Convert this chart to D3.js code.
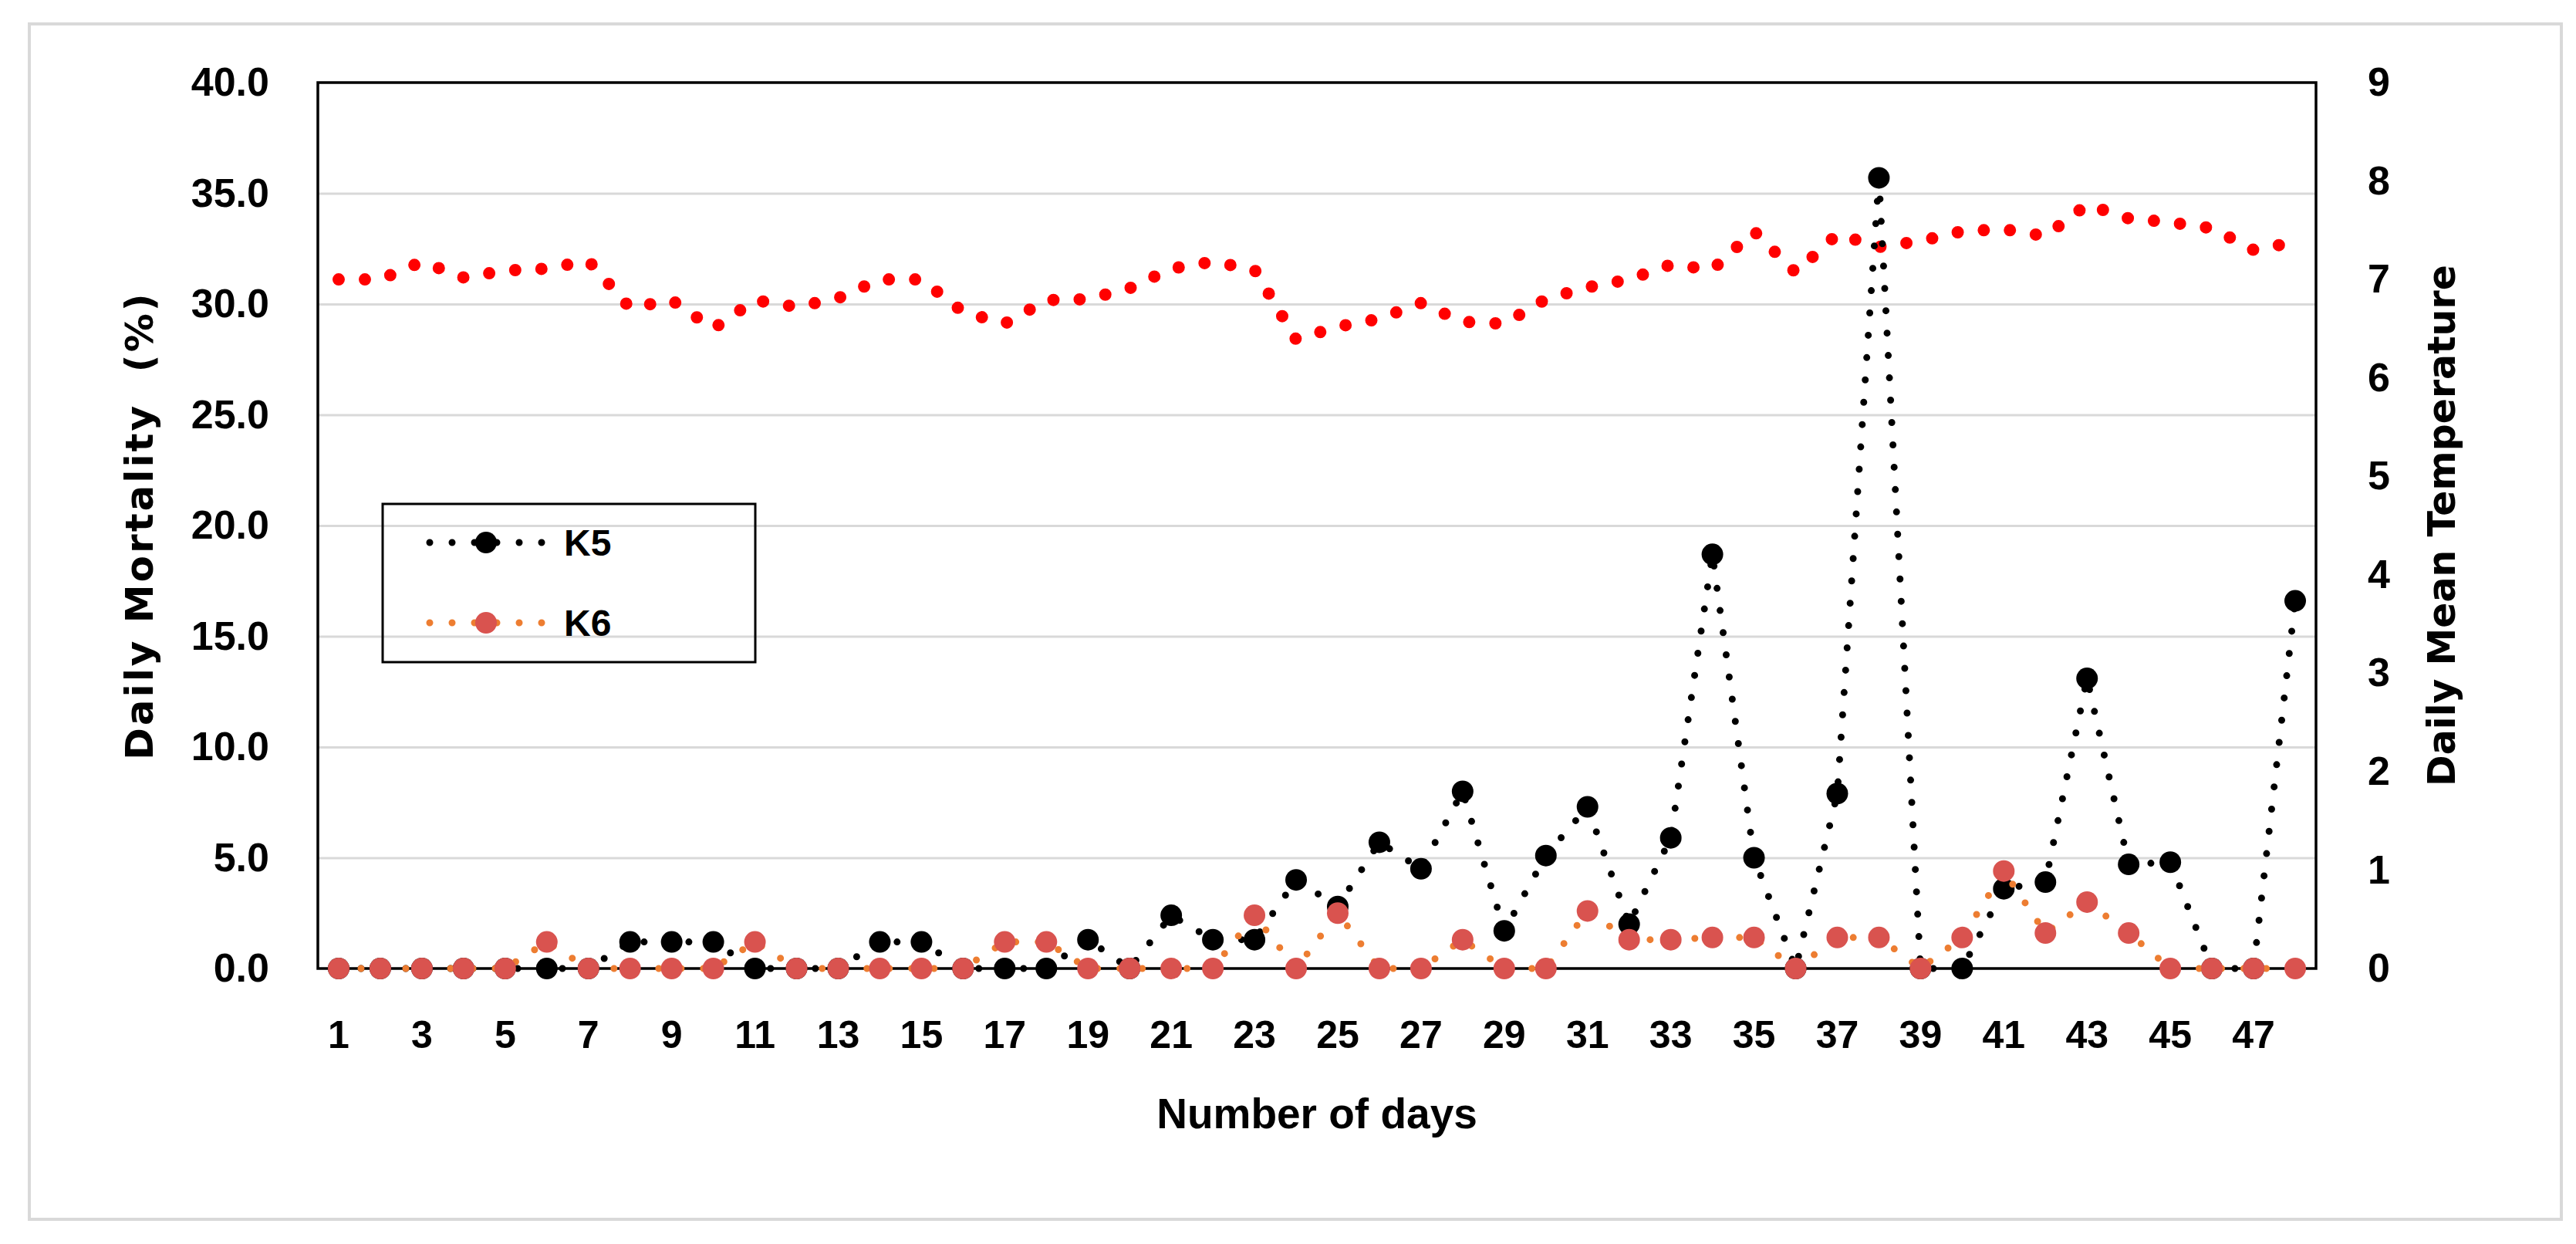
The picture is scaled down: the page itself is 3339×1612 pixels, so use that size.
<!DOCTYPE html>
<html>
<head>
<meta charset="utf-8">
<script src="https://cdn.jsdelivr.net/npm/d3@7/dist/d3.min.js"></script>
<style>
    html, body { margin: 0; padding: 0; background: #fff; }
    svg { display: block; }
    .Chart__tick text { font-family: 'Liberation Sans', Arial, sans-serif; font-weight: bold; fill: #000; }
    .Chart__title { font-family: 'DejaVu Sans', Verdana, sans-serif; font-weight: bold; fill: #000; white-space: pre; }
    .Chart__xtitle { font-family: 'Liberation Sans', Arial, sans-serif; font-weight: bold; fill: #000; }
    .Chart__legend text { font-family: 'Liberation Sans', Arial, sans-serif; font-weight: bold; fill: #000; }
</style>
</head>
<body>
<div id="chart"></div>
<script>
//----- DATA ---------------------------------------//
var days = [1, 2, 3, 4, 5, 6, 7, 8, 9, 10, 11, 12, 13, 14, 15, 16,
    17, 18, 19, 20, 21, 22, 23, 24, 25, 26, 27, 28, 29, 30, 31, 32,
    33, 34, 35, 36, 37, 38, 39, 40, 41, 42, 43, 44, 45, 46, 47, 48];
var dayLabels = [1, 3, 5, 7, 9, 11, 13, 15, 17, 19, 21, 23, 25, 27, 29, 31, 33, 35, 37, 39, 41, 43, 45, 47];

var k5 = [0, 0, 0, 0, 0, 0, 0, 1.2, 1.2, 1.2, 0, 0, 0, 1.2, 1.2, 0,
    0, 0, 1.3, 0, 2.4, 1.3, 1.3, 4.0, 2.8, 5.7, 4.5, 8.0, 1.7, 5.1, 7.3, 2.0,
    5.9, 18.7, 5.0, 0, 7.9, 35.7, 0, 0, 3.6, 3.9, 13.1, 4.7, 4.8, 0, 0, 16.6];

var k6 = [0, 0, 0, 0, 0, 1.2, 0, 0, 0, 0, 1.2, 0, 0, 0, 0, 0,
    1.2, 1.2, 0, 0, 0, 0, 2.4, 0, 2.5, 0, 0, 1.3, 0, 0, 2.6, 1.3,
    1.3, 1.4, 1.4, 0, 1.4, 1.4, 0, 1.4, 4.4, 1.6, 3.0, 1.6, 0, 0, 0, 0];

var temperature = [7.0, 7.0, 7.18, 7.02, 7.09, 7.11, 7.19, 6.71, 6.79, 6.5, 6.79, 6.72, 6.81, 7.0, 7.0, 6.67,
    6.55, 6.79, 6.8, 6.91, 7.11, 7.18, 7.1, 6.39, 6.52, 6.6, 6.76, 6.57, 6.55, 6.8, 6.92, 7.0,
    7.15, 7.1, 7.49, 7.07, 7.46, 7.33, 7.39, 7.49, 7.51, 7.44, 7.76, 7.62, 7.58, 7.52, 7.3, 7.38];

var leftTicks = [0, 5, 10, 15, 20, 25, 30, 35, 40];
var rightTicks = [0, 1, 2, 3, 4, 5, 6, 7, 8, 9];

//----- SETTINGS -----------------------------------//
var WIDTH = 3339,
    HEIGHT = 1612,
    PLOT_LEFT = 412,
    PLOT_RIGHT = 3002,
    PLOT_TOP = 107,
    PLOT_BOTTOM = 1255,
    TICK_FONT = 52,
    DOT_GAP = 29,
    MARKER_R = 14;

var svg = d3.select('#chart')
    .append('svg')
        .attr('width', WIDTH)
        .attr('height', HEIGHT);

svg.append('rect')
    .attr('width', WIDTH)
    .attr('height', HEIGHT)
    .attr('fill', '#fff');

//----- OUTER FRAME --------------------------------//
svg.append('rect')
    .attr('x', 38)
    .attr('y', 31)
    .attr('width', 3282)
    .attr('height', 1549)
    .attr('fill', 'none')
    .attr('stroke', '#d9d9d9')
    .attr('stroke-width', 4);

//----- SCALES -------------------------------------//
var x = d3.scaleBand().domain(days).range([PLOT_LEFT, PLOT_RIGHT]);
var yLeft = d3.scaleLinear().domain([0, 40]).range([PLOT_BOTTOM, PLOT_TOP]);
var yRight = d3.scaleLinear().domain([0, 9]).range([PLOT_BOTTOM, PLOT_TOP]);

function cx(d, i) { return x(days[i]) + x.bandwidth() / 2; }

//----- GRIDLINES ----------------------------------//
svg.append('g')
    .attr('transform', 'translate(' + PLOT_LEFT + ',0)')
    .call(d3.axisLeft(yLeft).tickValues(leftTicks.slice(1, -1)).tickSize(-(PLOT_RIGHT - PLOT_LEFT)).tickFormat(''))
    .call(function (g) {
        g.select('.domain').remove();
        g.selectAll('line').attr('stroke', '#d9d9d9').attr('stroke-width', 3);
    });

//----- PLOT BORDER --------------------------------//
svg.append('rect')
    .attr('x', PLOT_LEFT)
    .attr('y', PLOT_TOP)
    .attr('width', PLOT_RIGHT - PLOT_LEFT)
    .attr('height', PLOT_BOTTOM - PLOT_TOP)
    .attr('fill', 'none')
    .attr('stroke', '#000')
    .attr('stroke-width', 3.5);

//----- AXES ---------------------------------------//
svg.append('g')
    .attr('class', 'Chart__tick')
    .attr('transform', 'translate(' + PLOT_LEFT + ',0)')
    .call(d3.axisLeft(yLeft).tickValues(leftTicks).tickFormat(d3.format('.1f')).tickSize(0).tickPadding(63))
    .call(function (g) { g.select('.domain').remove(); })
    .selectAll('text').attr('font-size', TICK_FONT);

svg.append('g')
    .attr('class', 'Chart__tick')
    .attr('transform', 'translate(' + PLOT_RIGHT + ',0)')
    .call(d3.axisRight(yRight).tickValues(rightTicks).tickFormat(d3.format('d')).tickSize(0).tickPadding(67))
    .call(function (g) { g.select('.domain').remove(); })
    .selectAll('text').attr('font-size', TICK_FONT);

svg.append('g')
    .attr('class', 'Chart__tick')
    .attr('transform', 'translate(0,' + PLOT_BOTTOM + ')')
    .call(d3.axisBottom(x).tickValues(dayLabels).tickSize(0).tickPadding(67))
    .call(function (g) { g.select('.domain').remove(); })
    .selectAll('text').attr('font-size', 50);

//----- AXIS TITLES --------------------------------//
svg.append('text')
    .attr('class', 'Chart__title')
    .attr('transform', 'translate(180,' + (PLOT_TOP + PLOT_BOTTOM) / 2 + ') rotate(-90)')
    .attr('text-anchor', 'middle')
    .attr('dy', '0.35em')
    .attr('font-size', 50)
    .attr('letter-spacing', 3)
    .text('Daily Mortality  (%)');

svg.append('text')
    .attr('class', 'Chart__title')
    .attr('transform', 'translate(3165,' + (PLOT_TOP + PLOT_BOTTOM) / 2 + ') rotate(-90)')
    .attr('text-anchor', 'middle')
    .attr('dy', '0.35em')
    .attr('font-size', 49)
    .text('Daily Mean Temperature');

svg.append('text')
    .attr('class', 'Chart__xtitle')
    .attr('x', (PLOT_LEFT + PLOT_RIGHT) / 2)
    .attr('y', 1462)
    .attr('text-anchor', 'middle')
    .attr('font-size', 55)
    .text('Number of days');

//----- SERIES -------------------------------------//
var series = [
    { values: temperature, y: yRight, stroke: '#ff0000', width: 16, gap: 34, marker: null },
    { values: k5, y: yLeft, stroke: '#000000', width: 9, gap: DOT_GAP, marker: '#000000' },
    { values: k6, y: yLeft, stroke: '#ed7d31', width: 9, gap: DOT_GAP, marker: '#d9534f' }
];

series.forEach(function (s) {
    var line = d3.line()
        .x(cx)
        .y(function (d) { return s.y(d); });

    svg.append('path')
        .datum(s.values)
        .attr('d', line)
        .attr('fill', 'none')
        .attr('stroke', s.stroke)
        .attr('stroke-width', s.width)
        .attr('stroke-linecap', 'round')
        .attr('stroke-dasharray', '0 ' + s.gap);

    if (s.marker) {
        svg.append('g')
            .selectAll('circle')
            .data(s.values).enter()
            .append('circle')
                .attr('cx', cx)
                .attr('cy', function (d) { return s.y(d); })
                .attr('r', MARKER_R)
                .attr('fill', s.marker);
    }
});

//----- LEGEND -------------------------------------//
var legend = svg.append('g').attr('class', 'Chart__legend');

legend.append('rect')
    .attr('x', 496)
    .attr('y', 653)
    .attr('width', 483)
    .attr('height', 205)
    .attr('fill', 'none')
    .attr('stroke', '#000')
    .attr('stroke-width', 3);

var legendItems = [
    { name: 'K5', stroke: '#000000', marker: '#000000', y: 703 },
    { name: 'K6', stroke: '#ed7d31', marker: '#d9534f', y: 807 }
];

legendItems.forEach(function (item) {
    legend.append('line')
        .attr('x1', 557).attr('x2', 703)
        .attr('y1', item.y).attr('y2', item.y)
        .attr('stroke', item.stroke)
        .attr('stroke-width', 9)
        .attr('stroke-linecap', 'round')
        .attr('stroke-dasharray', '0 ' + DOT_GAP);
    legend.append('circle')
        .attr('cx', 630).attr('cy', item.y)
        .attr('r', MARKER_R)
        .attr('fill', item.marker);
    legend.append('text')
        .attr('x', 731).attr('y', item.y)
        .attr('dy', '0.36em')
        .attr('font-size', 48)
        .text(item.name);
});
</script>
</body>
</html>
